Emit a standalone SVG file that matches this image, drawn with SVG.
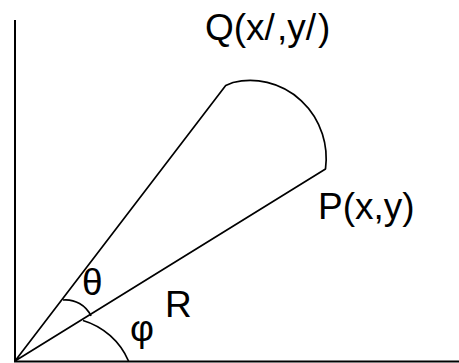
<svg xmlns="http://www.w3.org/2000/svg" width="459" height="363" viewBox="0 0 459 363">
<style>
.ln{fill:none;stroke:#000;stroke-width:1.7;stroke-linejoin:round}
.ax{fill:none;stroke:#000;stroke-width:2}
.t{font-family:"Liberation Sans",Arial,sans-serif;font-size:37px;fill:#000}
</style>
<rect width="459" height="363" fill="#fff"/>
<g id="connectors">
<path class="ax" d="M15,20 V362"/>
<path class="ax" d="M14,361.5 H459"/>
<path class="ln" d="M15,361 L225.7,85.5 L233,82.5 A76,78 0 0,1 325.5,169 Z"/>
<path class="ln" d="M63,300 A28,28 0 0,1 91,316"/>
<path class="ln" d="M83,320.5 A72,72 0 0,1 128.5,361"/>
</g>
<g id="Q"><text class="t" x="205" y="40">Q(x/<tspan dx="2">,y/</tspan><tspan dx="2">)</tspan></text></g>
<g id="P"><text class="t" x="318" y="219">P(x,y)</text></g>
<g id="theta"><text class="t" x="82" y="295">θ</text></g>
<g id="R"><text class="t" x="165" y="317">R</text></g>
<g id="phi"><text class="t" x="130" y="341">φ</text></g>
</svg>
